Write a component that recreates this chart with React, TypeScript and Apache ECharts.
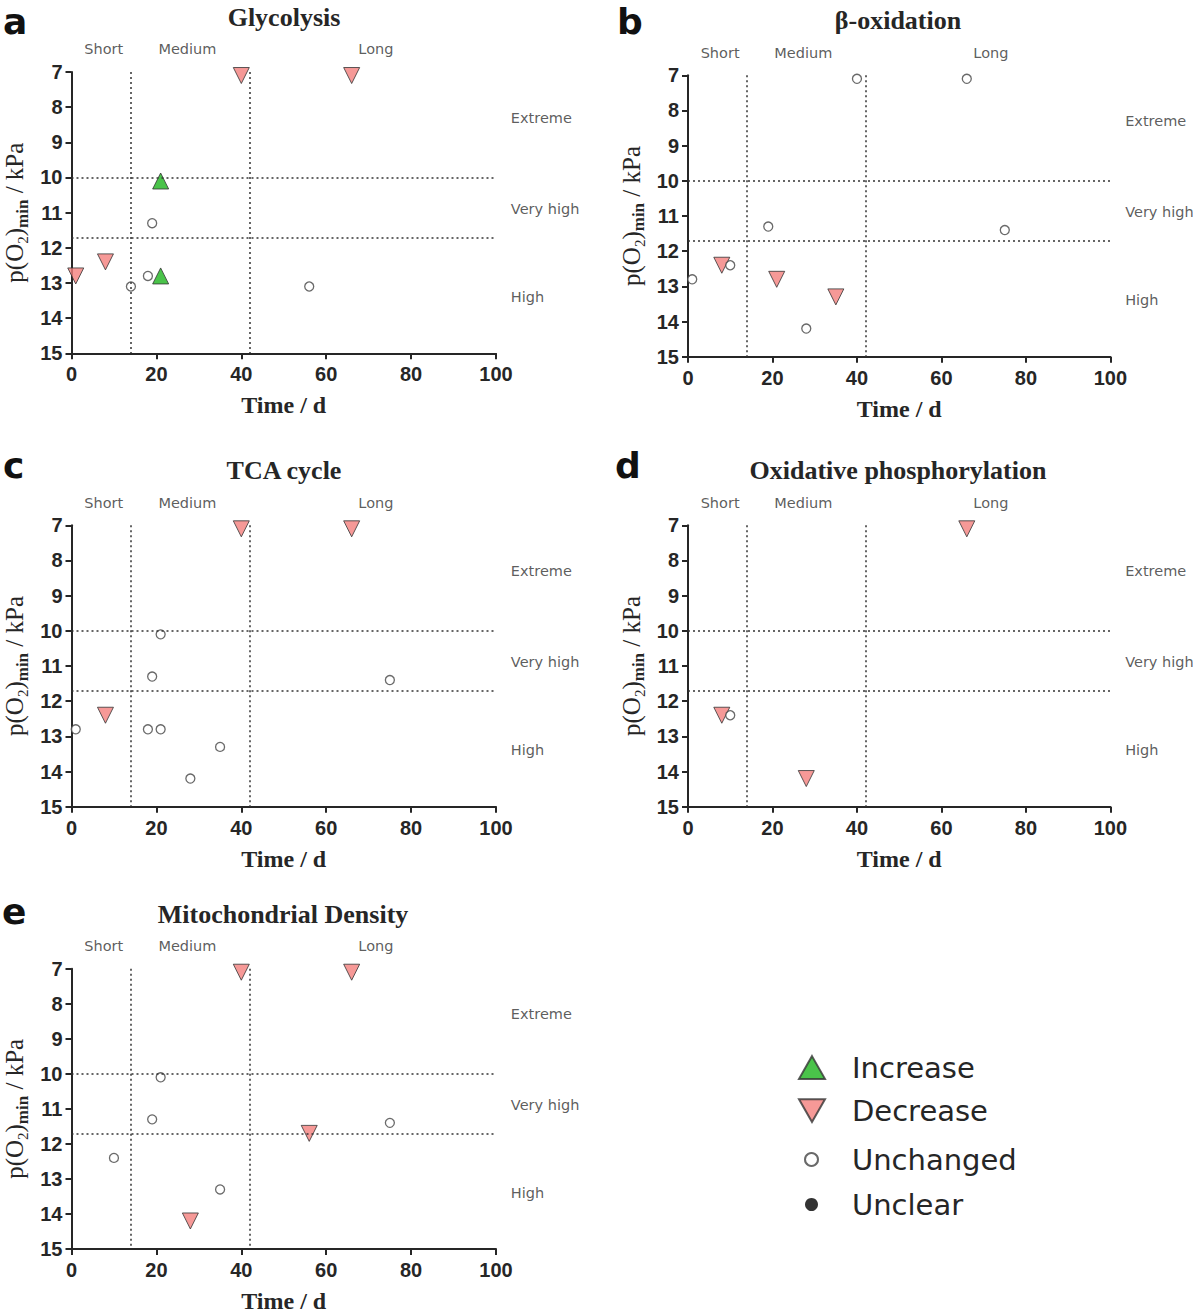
import React, { useEffect, useRef } from "react";
import * as echarts from "echarts";

// ---- annotation data ----
const timeBoundaries = [14, 42];
const po2Boundaries = [10, 11.7];
const phaseNames = ["Short", "Medium", "Long"];
const phaseLabelTime = [7.6, 27.3, 71.7];
const phaseLabelPO2 = 6.36;
const levelNames = ["Extreme", "Very high", "High"];
const levelLabelPO2 = [8.3, 10.9, 13.4];
const levelLabelTime = 103.5;

const panelTitles = ["Glycolysis", "β-oxidation", "TCA cycle", "Oxidative phosphorylation", "Mitochondrial Density"];
const panelLetters = ["a", "b", "c", "d", "e"];
const legendNames = ["Increase", "Decrease", "Unchanged", "Unclear"];

// ---- series data: [time (d), p(O2)min (kPa)] ----
const glycolysisIncrease = [[21, 10.1], [21, 12.8]];
const glycolysisDecrease = [[40, 7.1], [66, 7.1], [8, 12.4], [1, 12.8]];
const glycolysisUnchanged = [[19, 11.3], [18, 12.8], [14, 13.1], [56, 13.1]];

const betaIncrease: number[][] = [];
const betaDecrease = [[8, 12.4], [21, 12.8], [35, 13.3]];
const betaUnchanged = [[40, 7.1], [66, 7.1], [19, 11.3], [75, 11.4], [1, 12.8], [10, 12.4], [28, 14.2]];

const tcaIncrease: number[][] = [];
const tcaDecrease = [[40, 7.1], [66, 7.1], [8, 12.4]];
const tcaUnchanged = [[21, 10.1], [19, 11.3], [75, 11.4], [1, 12.8], [18, 12.8], [21, 12.8], [35, 13.3], [28, 14.2]];

const oxphosIncrease: number[][] = [];
const oxphosDecrease = [[66, 7.1], [8, 12.4], [28, 14.2]];
const oxphosUnchanged = [[10, 12.4]];

const mitoIncrease: number[][] = [];
const mitoDecrease = [[40, 7.1], [66, 7.1], [56, 11.7], [28, 14.2]];
const mitoUnchanged = [[21, 10.1], [19, 11.3], [10, 12.4], [35, 13.3], [75, 11.4]];

const unclearPoints: number[][] = [];

const panelIncrease = [glycolysisIncrease, betaIncrease, tcaIncrease, oxphosIncrease, mitoIncrease];
const panelDecrease = [glycolysisDecrease, betaDecrease, tcaDecrease, oxphosDecrease, mitoDecrease];
const panelUnchanged = [glycolysisUnchanged, betaUnchanged, tcaUnchanged, oxphosUnchanged, mitoUnchanged];

// ---- layout ----
const layouts = [
  { left: 71.5, top: 72, width: 424.5, height: 281.3, titleX: 284, titleY: 17, letterX: 3, letterY: 3 },
  { left: 688, top: 75.3, width: 422.4, height: 281.4, titleX: 898, titleY: 20, letterX: 617, letterY: 3 },
  { left: 71.5, top: 525.3, width: 424.5, height: 281.4, titleX: 284, titleY: 470.5, letterX: 3, letterY: 447 },
  { left: 688, top: 525.3, width: 422.4, height: 281.4, titleX: 898, titleY: 470.5, letterX: 615, letterY: 447 },
  { left: 71.5, top: 968.7, width: 424.5, height: 281.3, titleX: 283, titleY: 914, letterX: 2, letterY: 893 },
];

const INK = "#262626";
const SERIF = "'Liberation Serif', 'DejaVu Serif', serif";
const SANS = "'Liberation Sans', Arial, sans-serif";
const LABEL_SANS = "'DejaVu Sans', 'Liberation Sans', sans-serif";

export default function App() {
  const ref = useRef<HTMLDivElement>(null);

  useEffect(() => {
    if (!ref.current) return;
    const chart = echarts.init(ref.current, null, { renderer: "svg" });

    const grid = layouts.map((l) => ({ left: l.left, top: l.top, width: l.width, height: l.height }));

    const xAxis = layouts.map((_, i) => ({
      gridIndex: i,
      type: "value",
      min: 0,
      max: 100,
      interval: 20,
      name: "Time / d",
      nameLocation: "middle",
      nameGap: 40,
      nameTextStyle: { fontFamily: SERIF, fontWeight: "bold", fontSize: 24, color: INK },
      axisLine: { onZero: false, lineStyle: { color: INK, width: 2 } },
      axisTick: { length: 6, lineStyle: { color: INK, width: 2 } },
      axisLabel: { fontFamily: SANS, fontWeight: "bold", fontSize: 20, color: INK, margin: 11 },
      splitLine: { show: false },
    }));

    const yAxis = layouts.map((_, i) => ({
      gridIndex: i,
      type: "value",
      min: 7,
      max: 15,
      interval: 1,
      inverse: true,
      name: "{a|p(O}{s|2}{a|)}{m|min}{a| / kPa}",
      nameLocation: "middle",
      nameRotate: 90,
      nameGap: 41,
      nameTextStyle: {
        color: INK,
        rich: {
          a: { fontFamily: SERIF, fontSize: 25, lineHeight: 32, verticalAlign: "middle", color: INK },
          s: { fontFamily: SERIF, fontSize: 15, lineHeight: 15, verticalAlign: "bottom", color: INK },
          m: { fontFamily: SERIF, fontSize: 17, fontWeight: "bold", lineHeight: 15, verticalAlign: "bottom", color: INK },
        },
      },
      axisLine: { onZero: false, lineStyle: { color: INK, width: 2 } },
      axisTick: { length: 6, lineStyle: { color: INK, width: 2 } },
      axisLabel: { fontFamily: SANS, fontWeight: "bold", fontSize: 20, color: INK, margin: 9 },
      splitLine: { show: false },
    }));

    const series: any[] = [];
    layouts.forEach((_, i) => {
      // reference lines
      series.push({
        type: "scatter",
        name: "refs",
        xAxisIndex: i,
        yAxisIndex: i,
        data: [],
        silent: true,
        markLine: {
          silent: true,
          symbol: ["none", "none"],
          label: { show: false },
          lineStyle: { type: [2, 3], color: "#333", width: 1.5 },
          emphasis: { disabled: true },
          data: [
            ...timeBoundaries.map((v) => ({ xAxis: v })),
            ...po2Boundaries.map((v) => ({ yAxis: v })),
          ],
        },
      });
      // phase labels
      series.push({
        type: "scatter",
        name: "phases",
        xAxisIndex: i,
        yAxisIndex: i,
        clip: false,
        silent: true,
        symbolSize: 0,
        itemStyle: { color: "transparent" },
        label: {
          show: true,
          position: "inside",
          formatter: "{b}",
          fontFamily: LABEL_SANS,
          fontSize: 14.5,
          color: "#333",
        },
        data: phaseNames.map((n, k) => ({ name: n, value: [phaseLabelTime[k], phaseLabelPO2] })),
      });
      // level labels
      series.push({
        type: "scatter",
        name: "levels",
        xAxisIndex: i,
        yAxisIndex: i,
        clip: false,
        silent: true,
        symbolSize: 0,
        itemStyle: { color: "transparent" },
        label: {
          show: true,
          position: "inside",
          align: "left",
          formatter: "{b}",
          fontFamily: LABEL_SANS,
          fontSize: 14.5,
          color: "#333",
        },
        data: levelNames.map((n, k) => ({ name: n, value: [levelLabelTime, levelLabelPO2[k]] })),
      });
      series.push({
        type: "scatter",
        name: "Increase",
        xAxisIndex: i,
        yAxisIndex: i,
        symbol: "triangle",
        symbolSize: 16,
        itemStyle: { color: "#1DB41D", borderColor: "#333", borderWidth: 1 },
        data: panelIncrease[i],
      });
      series.push({
        type: "scatter",
        name: "Decrease",
        xAxisIndex: i,
        yAxisIndex: i,
        symbol: "triangle",
        symbolRotate: 180,
        symbolSize: 16,
        itemStyle: { color: "#F47F7D", borderColor: "#333", borderWidth: 1 },
        data: panelDecrease[i],
      });
      series.push({
        type: "scatter",
        name: "Unchanged",
        xAxisIndex: i,
        yAxisIndex: i,
        symbol: "circle",
        symbolSize: 9,
        itemStyle: { color: "#ffffff", borderColor: "#444", borderWidth: 1.3 },
        data: panelUnchanged[i],
      });
    });
    series.push({
      type: "scatter",
      name: "Unclear",
      xAxisIndex: 0,
      yAxisIndex: 0,
      symbol: "circle",
      symbolSize: 9,
      itemStyle: { color: "#000" },
      data: unclearPoints,
    });

    const graphic: any[] = [];
    layouts.forEach((l, i) => {
      graphic.push({
        type: "text",
        x: l.titleX,
        y: l.titleY,
        style: {
          text: panelTitles[i],
          fontFamily: SERIF,
          fontWeight: "bold",
          fontSize: 26,
          fill: INK,
          align: "center",
          verticalAlign: "middle",
        },
      });
      graphic.push({
        type: "text",
        x: l.letterX,
        y: l.letterY,
        style: {
          text: panelLetters[i],
          fontFamily: LABEL_SANS,
          fontWeight: "bold",
          fontSize: 36,
          fill: "#111",
          align: "left",
          verticalAlign: "top",
        },
      });
    });

    chart.setOption({
      animation: false,
      backgroundColor: "#ffffff",
      grid,
      xAxis,
      yAxis,
      series,
      graphic,
      legend: [
        {
          data: [
            { name: legendNames[0], icon: "path://M12,0L24,21L0,21Z" },
            { name: legendNames[1], icon: "path://M0,0L24,0L12,21Z" },
          ],
          orient: "vertical",
          left: 793,
          top: 1048,
          itemWidth: 26,
          itemHeight: 24,
          itemGap: 14,
          selectedMode: false,
          textStyle: { fontFamily: LABEL_SANS, fontSize: 29, color: INK, padding: [0, 0, 0, 22] },
        },
        {
          data: legendNames.slice(2),
          orient: "vertical",
          left: 799,
          top: 1140,
          itemWidth: 13,
          itemHeight: 13,
          itemGap: 16,
          selectedMode: false,
          textStyle: { fontFamily: LABEL_SANS, fontSize: 29, color: INK, padding: [0, 0, 0, 29] },
        },
      ],
    });

    return () => chart.dispose();
  }, []);

  return (
    <div
      ref={ref}
      style={{ position: "absolute", left: 0, top: 0, width: 1200, height: 1314, background: "#fff" }}
    />
  );
}
